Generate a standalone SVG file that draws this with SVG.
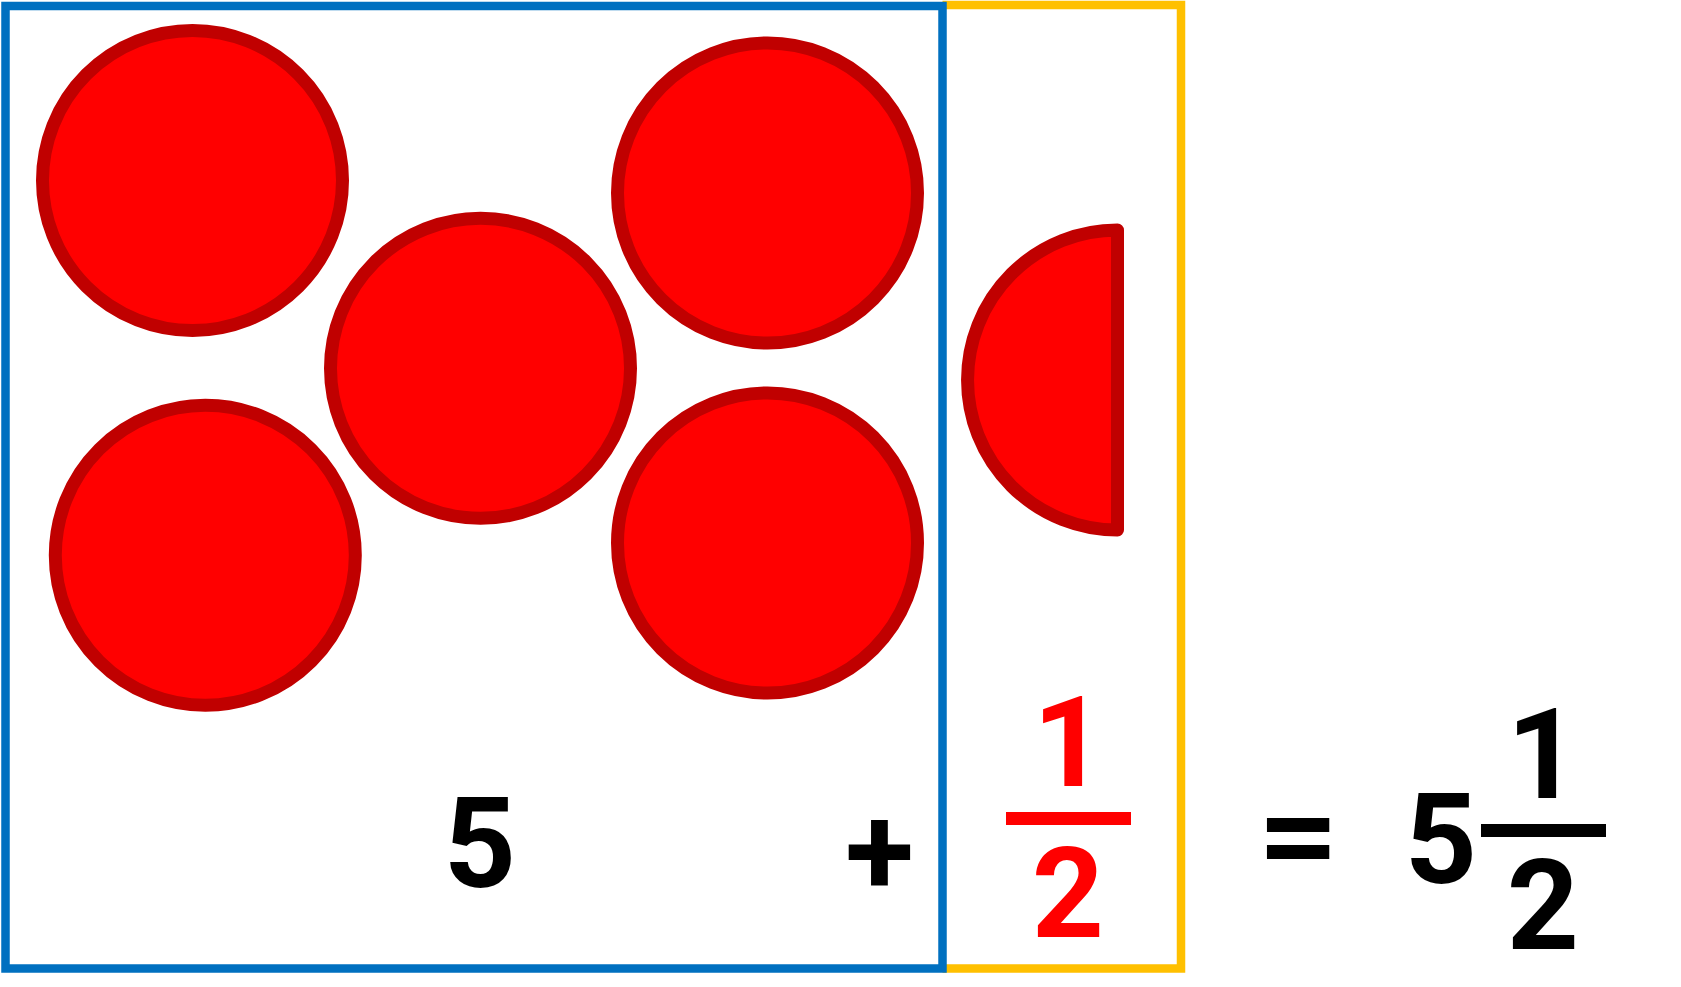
<svg xmlns="http://www.w3.org/2000/svg" width="1681" height="987" viewBox="0 0 1681 987">
<style>
.disk{fill:#FF0000;stroke:#C00000;stroke-width:13;stroke-linejoin:round}
.t{font-family:Roboto,'Liberation Sans',sans-serif;font-weight:700;font-size:126px;text-anchor:middle}
.k{fill:#000000}
.r{fill:#FF0000}
</style>
<rect width="1681" height="987" fill="#FFFFFF"/>
<g id="half-box">
<polyline points="942.5,5 1181,5 1181,968.5 942.5,968.5" fill="none" stroke="#FFC000" stroke-width="8.5"/>
</g>
<g id="whole-box">
<rect x="5.5" y="6" width="937" height="962.5" fill="none" stroke="#0070C0" stroke-width="8.5"/>
</g>
<g id="circle-1"><circle class="disk" cx="192.5" cy="180.5" r="150"/></g>
<g id="circle-2"><circle class="disk" cx="480.5" cy="368.3" r="150"/></g>
<g id="circle-3"><circle class="disk" cx="767.5" cy="193" r="150"/></g>
<g id="circle-4"><circle class="disk" cx="205.3" cy="555.3" r="150"/></g>
<g id="circle-5"><circle class="disk" cx="767.5" cy="543" r="150"/></g>
<g id="half-circle"><path class="disk" d="M1117.5,230 A150,150 0 0 0 1117.5,530 Z"/></g>
<g id="label-5"><text class="t k" x="480" y="887">5</text></g>
<g id="label-plus"><text class="t k" x="879.5" y="895">+</text></g>
<g id="label-half">
<text class="t r" x="1069" y="786">1</text>
<rect x="1006" y="812" width="125" height="13" fill="#FF0000"/>
<text class="t r" x="1068" y="937">2</text>
</g>
<g id="label-equals"><text class="t k" transform="translate(1298.3,879) scale(1.13,1)" x="0" y="0">=</text></g>
<g id="label-result">
<text class="t k" x="1441" y="882.5">5</text>
<text class="t k" x="1543" y="798">1</text>
<rect x="1481" y="824" width="125" height="13" fill="#000000"/>
<text class="t k" x="1543" y="949">2</text>
</g>
<g id="connectors"></g>
</svg>
